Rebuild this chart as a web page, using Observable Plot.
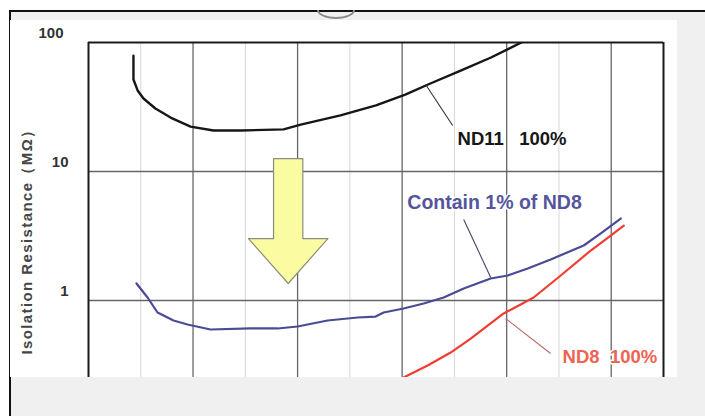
<!DOCTYPE html>
<html>
<head>
<meta charset="utf-8">
<script src="https://cdn.jsdelivr.net/npm/d3@7"></script>
<script src="https://cdn.jsdelivr.net/npm/@observablehq/plot@0.6"></script>
<style>
  html { margin: 0; padding: 0; background: #f0f0f0; overflow: hidden; }
  body { margin: 0; padding: 0; background: #f0f0f0; position: relative; width: 705px; height: 416px; overflow: hidden; font-family: "Liberation Sans", Arial, sans-serif; }
  #topwhite { position: absolute; left: 0; top: 0; width: 705px; height: 10px; background: #ffffff; }
  #leftwhite { position: absolute; left: 0; top: 0; width: 9px; height: 416px; background: #ffffff; }
  #topline { position: absolute; left: 9px; top: 10px; width: 696px; height: 1.5px; background: #111; }
  #leftline { position: absolute; left: 9px; top: 10px; width: 1.5px; height: 406px; background: #111; }
  #logo { position: absolute; left: 317px; top: 1px; width: 34px; height: 14px; border: 2.5px solid #8a8a8a; border-radius: 50%; clip-path: inset(9px 0 0 0); }
  #chart { position: absolute; left: 10px; top: 20px; width: 667px; height: 357px; background: #ffffff; overflow: hidden; }
  #ylabel { position: absolute; left: 27px; top: 238px; transform: translate(-50%, -50%) rotate(-90deg); white-space: nowrap; font-size: 15px; font-weight: bold; color: #454545; letter-spacing: 1.4px; }
</style>
</head>
<body>
<div id="topwhite"></div><div id="leftwhite"></div>
<div id="topline"></div><div id="leftline"></div>
<div id="logo"></div>
<div id="chart"></div>
<div id="ylabel"></div>
<script>
// ---- data (x in arbitrary grid units, y in MΩ) ----
const xMajor = [1, 2, 3, 4, 5];
const xMinor = [0.5, 1.5, 2.5, 3.5, 4.5];
const yGrid = [1, 10];
const yTicksLow = [1, 10];
const yTicksTop = [100];
const yLabel = "Isolation Resistance（MΩ）";

const nd11X = [0.43, 0.43, 0.47, 0.526, 0.64, 0.785, 0.976, 1.196, 1.455, 1.866, 2.03, 2.41, 2.75, 3.03, 3.27, 3.56, 3.85, 4.15];
const nd11Y = [79, 51.7, 42.5, 36.8, 30.8, 26.2, 22.3, 20.8, 20.8, 21.2, 23.1, 27.2, 32.5, 39.5, 48.1, 60.6, 76.5, 101];

const mixX = [0.459, 0.565, 0.66, 0.718, 0.813, 0.947, 1.167, 1.55, 1.809, 2.0, 2.287, 2.574, 2.746, 2.823, 3.014, 3.206, 3.397, 3.589, 3.847, 4.01, 4.201, 4.421, 4.737, 4.9, 5.091];
const mixY = [1.355, 1.055, 0.807, 0.765, 0.70, 0.652, 0.596, 0.607, 0.607, 0.629, 0.70, 0.738, 0.751, 0.807, 0.867, 0.948, 1.055, 1.239, 1.481, 1.563, 1.77, 2.08, 2.67, 3.31, 4.32];

const nd8X = [3.014, 3.244, 3.464, 3.656, 3.971, 4.258, 4.517, 4.804, 4.995, 5.12];
const nd8Y = [0.253, 0.313, 0.395, 0.507, 0.793, 1.055, 1.563, 2.44, 3.19, 3.81];

// arrow outline (data units)
const arrowX = [1.77, 2.05, 2.05, 2.29, 1.91, 1.53, 1.77, 1.77];
const arrowY = [12.6, 12.6, 3.02, 3.02, 1.355, 3.02, 3.02, 12.6];

// labels
const labelText = ["ND11\u00a0\u00a0\u00a0100%", "Contain 1% of ND8", "ND8\u00a0\u00a0100%"];
const labelX = [3.53, 3.05, 4.535];
const labelY = [17.9, 5.75, 0.365];
const labelColor = ["#161616", "#55559c", "#ee6352"];
const labelSize = [18.5, 19.5, 18.5];

// leader lines
const leadX1 = [3.225, 3.589, 3.99];
const leadY1 = [47.3, 4.25, 0.725];
const leadX2 = [3.483, 3.847, 4.42];
const leadY2 = [22.7, 1.51, 0.388];
const leadColor = ["#333333", "#444466", "#b86a66"];

const line = (xs, ys) => xs.map((x, i) => ({x, y: ys[i]}));
const labels = labelText.map((t, i) => ({t, x: labelX[i], y: labelY[i], c: labelColor[i], s: labelSize[i]}));
const leaders = leadX1.map((x1, i) => ({x1, y1: leadY1[i], x2: leadX2[i], y2: leadY2[i], c: leadColor[i]}));

document.getElementById("ylabel").textContent = yLabel;

const chart = Plot.plot({
  width: 667,
  height: 357,
  marginLeft: 78,
  marginRight: 14,
  marginTop: 22,
  marginBottom: 0,
  style: {background: "#ffffff", fontFamily: "Liberation Sans, Arial, sans-serif"},
  x: {domain: [0, 5.5], axis: null},
  y: {type: "log", domain: [0.253, 100], axis: null},
  marks: [
    Plot.ruleX(xMinor, {stroke: "#d6d6d6", strokeWidth: 1}),
    Plot.ruleX(xMajor, {stroke: "#666666", strokeWidth: 1.3}),
    Plot.ruleY(yGrid, {stroke: "#666666", strokeWidth: 1.3}),
    Plot.ruleX([0, 5.5], {stroke: "#1a1a1a", strokeWidth: 2}),
    Plot.ruleY([100], {stroke: "#1a1a1a", strokeWidth: 2}),
    Plot.line(line(arrowX, arrowY), {x: "x", y: "y", fill: "#fbfba2", stroke: "#8c8c7c", strokeWidth: 1.2, curve: "linear-closed"}),
    Plot.line(line(nd11X, nd11Y), {x: "x", y: "y", stroke: "#161616", strokeWidth: 2.4, clip: true}),
    Plot.line(line(mixX, mixY), {x: "x", y: "y", stroke: "#4b4a94", strokeWidth: 2.2, clip: true}),
    Plot.line(line(nd8X, nd8Y), {x: "x", y: "y", stroke: "#ef3d33", strokeWidth: 2.2, clip: true}),
    Plot.link(leaders, {x1: "x1", y1: "y1", x2: "x2", y2: "y2", stroke: "c", strokeWidth: 1.1}),
    Plot.text(labels, {x: "x", y: "y", text: "t", fill: "c", fontSize: "s", textAnchor: "start", fontWeight: "bold", stroke: "white", strokeWidth: 3}),
    Plot.axisY(yTicksLow, {tickSize: 0, tickPadding: 20, dy: -9, fontSize: 15, fontWeight: "bold", color: "#333", tickFormat: d => String(d), label: null}),
    Plot.axisY(yTicksTop, {tickSize: 0, tickPadding: 25, dy: -9, fontSize: 15, fontWeight: "bold", color: "#333", tickFormat: d => String(d), label: null})
  ]
});
document.getElementById("chart").appendChild(chart);
</script>
</body>
</html>
